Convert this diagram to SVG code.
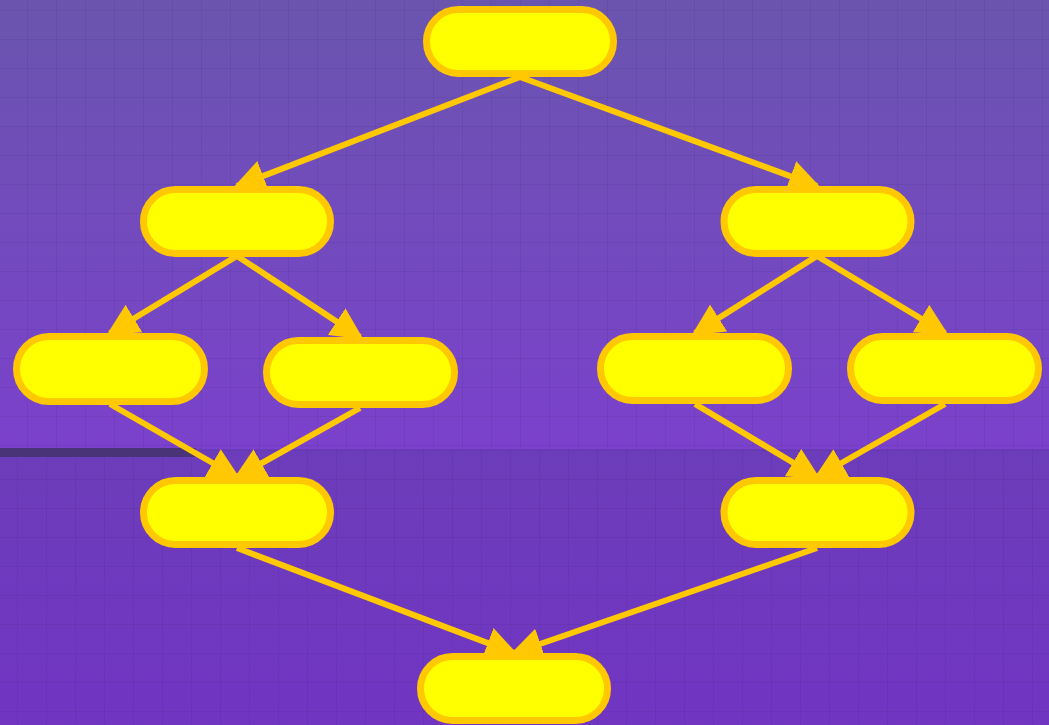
<svg xmlns="http://www.w3.org/2000/svg" width="1049" height="725" viewBox="0 0 1049 725">
  <defs>
    <linearGradient id="bgTop" x1="0" y1="0" x2="0" y2="1">
      <stop offset="0" stop-color="#6a55ae"/>
      <stop offset="1" stop-color="#7b41cc"/>
    </linearGradient>
    <linearGradient id="bgBot" x1="0" y1="0" x2="0" y2="1">
      <stop offset="0" stop-color="#6c3dba"/>
      <stop offset="1" stop-color="#7135c2"/>
    </linearGradient>
    <pattern id="gridTop" patternUnits="userSpaceOnUse" x="-2" y="10" width="29" height="29">
      <path d="M0,0 H29 M0,0 V29" fill="none" stroke="#3a2070" stroke-opacity="0.24" stroke-width="1"/>
    </pattern>
    <pattern id="gridBot" patternUnits="userSpaceOnUse" x="17" y="15" width="29" height="29">
      <path d="M0,0 H29 M0,0 V29" fill="none" stroke="#3a2070" stroke-opacity="0.26" stroke-width="1"/>
    </pattern>
    <marker id="arrow" markerUnits="userSpaceOnUse" markerWidth="32" markerHeight="32" viewBox="0 0 32 32" refX="28" refY="16" orient="auto">
      <path d="M0,0 L32,16 L0,32 z" fill="#ffc800"/>
    </marker>
    <style>
      .node rect { fill: #ffff00; stroke: #ffc800; stroke-width: 7; }
      .edge { stroke: #ffc800; stroke-width: 6; fill: none; marker-end: url(#arrow); }
    </style>
  </defs>

  <!-- background -->
  <rect x="0" y="0" width="1049" height="449" fill="url(#bgTop)"/>
  <rect x="0" y="0" width="1049" height="449" fill="url(#gridTop)"/>
  <rect x="0" y="449" width="1049" height="276" fill="url(#bgBot)"/>
  <rect x="0" y="449" width="1049" height="276" fill="url(#gridBot)"/>
  <rect x="0" y="448" width="196" height="9" fill="#4a3478"/>

  <g id="connectors">
    <line class="edge" x1="520" y1="77" x2="237" y2="186"/>
    <line class="edge" x1="520" y1="77" x2="817" y2="186"/>
    <line class="edge" x1="237" y1="256" x2="110" y2="333"/>
    <line class="edge" x1="237" y1="256" x2="360" y2="337"/>
    <line class="edge" x1="817" y1="256" x2="695" y2="333"/>
    <line class="edge" x1="817" y1="256" x2="945" y2="333"/>
    <line class="edge" x1="110" y1="404" x2="237" y2="477"/>
    <line class="edge" x1="360" y1="408" x2="237" y2="477"/>
    <line class="edge" x1="695" y1="404" x2="817" y2="477"/>
    <line class="edge" x1="945" y1="404" x2="817" y2="477"/>
    <line class="edge" x1="237" y1="548" x2="514" y2="653"/>
    <line class="edge" x1="817" y1="548" x2="514" y2="653"/>
  </g>

  <g id="n1" class="node"><rect x="426.5" y="9.5" width="187" height="64" rx="32"/></g>
  <g id="n2" class="node"><rect x="143.5" y="189.5" width="187" height="64" rx="32"/></g>
  <g id="n3" class="node"><rect x="724" y="189.5" width="187" height="64" rx="32"/></g>
  <g id="n4" class="node"><rect x="16.5" y="336.5" width="188" height="65" rx="32.5"/></g>
  <g id="n5" class="node"><rect x="266.5" y="340.5" width="188" height="64" rx="32"/></g>
  <g id="n6" class="node"><rect x="600.5" y="336.5" width="188" height="64" rx="32"/></g>
  <g id="n7" class="node"><rect x="850.5" y="336.5" width="188" height="64" rx="32"/></g>
  <g id="n8" class="node"><rect x="143.5" y="480.5" width="187" height="64" rx="32"/></g>
  <g id="n9" class="node"><rect x="724" y="480.5" width="187" height="64" rx="32"/></g>
  <g id="n10" class="node"><rect x="420.5" y="656.5" width="187" height="64" rx="32"/></g>
</svg>
